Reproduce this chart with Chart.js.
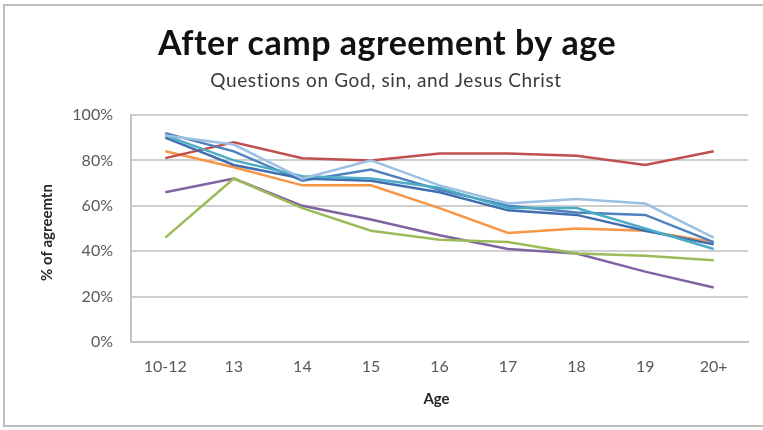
<!DOCTYPE html>
<html>
<head>
<meta charset="utf-8">
<script src="https://cdn.jsdelivr.net/npm/chart.js@4/dist/chart.umd.min.js"></script>
<style>
  html, body { margin: 0; padding: 0; background: #fff; }
  #wrap { width: 763px; height: 430px; position: relative; }
</style>
</head>
<body>
<div id="wrap"><canvas id="c" width="763" height="430"></canvas></div>
<script>
// Age groups along the x axis
const ages = ['10-12', '13', '14', '15', '16', '17', '18', '19', '20+'];

// Percent agreement per question, by age group
const qRed     = [81, 88, 81, 80, 83, 83, 82, 78, 84];
const qOrange  = [84, 77, 69, 69, 59, 48, 50, 49, 44];
const qGreen   = [46, 72, 59, 49, 45, 44, 39, 38, 36];
const qPurple  = [66, 72, 60, 54, 47, 41, 39, 31, 24];
const qBlue    = [92, 84, 71, 76, 67, 60, 57, 56, 44];
const qAqua    = [91, 80, 73, 72, 68, 59, 59, 50, 41];
const qLight   = [91, 87, 72, 80, 69, 61, 63, 61, 46];
const qNavy    = [90, 78, 72, 71, 66, 58, 56, 49, 43];

const yTicks = [0, 20, 40, 60, 80, 100];

const PLOT_LEFT = 131, PLOT_RIGHT = 748, PLOT_TOP = 115, PLOT_BOTTOM = 342;
const W = 763, H = 430;

// Outer frame, chart titles and axis titles
const frameAndTitles = {
  id: 'frameAndTitles',
  beforeDraw(chart) {
    const ctx = chart.ctx;
    ctx.save();
    ctx.fillStyle = '#ffffff';
    ctx.fillRect(0, 0, W, H);
    ctx.strokeStyle = '#bdbdbd';
    ctx.lineWidth = 2;
    ctx.strokeRect(4, 5, W + 10, 421);
    ctx.restore();
  },
  afterDraw(chart) {
    const ctx = chart.ctx;
    const area = chart.chartArea;
    ctx.save();
    ctx.textAlign = 'center';
    ctx.textBaseline = 'alphabetic';

    ctx.fillStyle = '#111111';
    ctx.font = 'bold 34px Lato';
    ctx.letterSpacing = '0.5px';
    ctx.fillText('After camp agreement by age', 387, 55);

    ctx.fillStyle = '#3a3a3a';
    ctx.font = '19px Lato';
    ctx.letterSpacing = '0.6px';
    ctx.fillText('Questions on God, sin, and Jesus Christ', 386, 87);

    ctx.letterSpacing = '0px';
    ctx.fillStyle = '#262626';
    ctx.font = 'bold 15px Lato';
    ctx.fillText('Age', (area.left + area.right) / 2 - 3, 404);

    ctx.translate(52, (area.top + area.bottom) / 2 + 4);
    ctx.rotate(-Math.PI / 2);
    ctx.fillText('% of agreemtn', 0, 0);
    ctx.restore();
  }
};

function series(label, data, color) {
  return {
    label, data,
    borderColor: color,
    backgroundColor: color,
    borderWidth: 2.5,
    pointRadius: 0,
    tension: 0,
    fill: false
  };
}

new Chart(document.getElementById('c'), {
  type: 'line',
  data: {
    labels: ages,
    datasets: [
      series('Q1', qLight,  '#9cc0e4'),
      series('Q2', qAqua,   '#4bacc6'),
      series('Q3', qNavy,   '#3f6fb0'),
      series('Q4', qBlue,   '#4f81bd'),
      series('Q5', qRed,    '#c0504d'),
      series('Q6', qOrange, '#f79646'),
      series('Q7', qGreen,  '#9bbb59'),
      series('Q8', qPurple, '#8064a2')
    ]
  },
  options: {
    responsive: false,
    animation: false,
    devicePixelRatio: 1,
    layout: { padding: { left: 0, right: W - PLOT_RIGHT, top: PLOT_TOP, bottom: 0 } },
    plugins: {
      legend: { display: false },
      title: { display: false },
      tooltip: { enabled: false }
    },
    scales: {
      x: {
        offset: true,
        grid: { display: false, drawTicks: false },
        border: { display: true, color: '#c4c4c4', width: 2 },
        ticks: {
          color: '#595959',
          font: { family: 'Lato', size: 16 },
          padding: 15,
          maxRotation: 0
        },
        afterFit(scale) { scale.height = H - PLOT_BOTTOM; }
      },
      y: {
        min: 0, max: 100,
        afterBuildTicks(scale) { scale.ticks = yTicks.map(v => ({ value: v })); },
        grid: { color: '#cfcfcf', lineWidth: 2, drawTicks: false },
        border: { display: true, color: '#c4c4c4', width: 2 },
        ticks: {
          color: '#595959',
          font: { family: 'Lato', size: 16 },
          padding: 18,
          callback: v => v + '%'
        },
        afterFit(scale) { scale.width = PLOT_LEFT; }
      }
    }
  },
  plugins: [frameAndTitles]
});
</script>
</body>
</html>
